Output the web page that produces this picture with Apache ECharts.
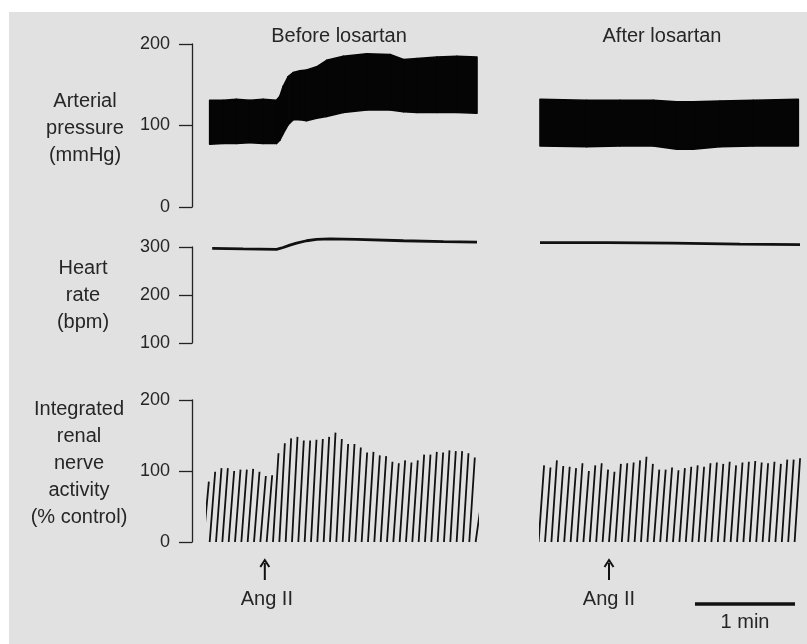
<!DOCTYPE html>
<html>
<head>
<meta charset="UTF-8">
<title>Ang II before / after losartan</title>
<script src="https://cdn.jsdelivr.net/npm/echarts@6/dist/echarts.min.js"></script>
<style>
  body { margin: 0; background: #fff; }
  #panel { position: absolute; left: 9px; top: 12px; width: 798px; height: 632px; background: #e1e1e1; }
  #main { position: absolute; left: 0; top: 0; width: 807px; height: 644px; }
</style>
</head>
<body>
<div id="panel"></div>
<div id="main"></div>
<script>
// ---- data (time in seconds from start of each recording) ----
// arterial pressure envelope, before losartan
var bpTimeBefore = [0, 8, 16, 24, 32, 40, 42, 44, 47, 50, 54, 58, 64, 70, 80, 94, 108, 116, 124, 136, 148, 160];
var sysBefore    = [131, 131, 132, 131, 132, 131, 136, 148, 160, 165, 167, 168, 172, 180, 185, 188, 187, 181, 182, 184, 185, 184];
var diaBefore    = [77, 78, 78, 79, 78, 78, 82, 90, 101, 107, 107, 106, 109, 111, 116, 119, 119, 117, 116, 116, 116, 115];
// arterial pressure envelope, after losartan
var bpTimeAfter = [0, 28, 48, 68, 82, 92, 108, 128, 155];
var sysAfter    = [132, 131, 131, 131, 129, 129, 130, 131, 132];
var diaAfter    = [75, 74, 75, 75, 71, 71, 74, 75, 75];

// heart rate
var hrTimeBefore = [1.5, 20, 40, 44, 48, 52, 58, 64, 72, 88, 116, 140, 160];
var hrBefore     = [297, 296, 295, 299, 304, 308, 313, 316, 317, 316, 313, 311, 310];
var hrTimeAfter  = [0, 40, 80, 120, 156];
var hrAfter      = [309, 309, 308, 306, 305];

// integrated renal nerve activity: peak of each integrator ramp
var nervePeaksBefore = [85, 99, 104, 104, 100, 102, 102, 103, 99, 93, 94,
  125, 139, 146, 148, 143, 143, 144, 145, 148, 154,
  145, 138, 138, 133, 126, 127, 122, 121, 113, 111, 115, 112, 115, 123, 123,
  127, 126, 129, 128, 128, 125, 119, 55];
var nervePeaksAfter = [108, 105, 115, 107, 106, 104, 111, 100, 108, 111, 102,
  99, 110, 111, 112, 115, 120, 110, 102, 102, 105,
  101, 104, 106, 108, 106, 111, 112, 110, 113, 108, 112, 113, 114, 112, 111,
  113, 110, 116, 116, 118];
var rampStartBefore = -3.79, rampPeriodBefore = 3.79;
var rampStartAfter = -0.84, rampPeriodAfter = 3.84;
var rampDuration = 3.3;

var angIIBefore = 33;   // injection time, s
var angIIAfter = 41.4;
var scaleBarStart = 93, scaleBarLength = 60;   // "1 min"

var pTicks = [0, 100, 200], hrTicks = [100, 200, 300], nTicks = [0, 100, 200];

// ---- helpers ----
function pairs(ts, vs) { return ts.map(function (t, i) { return [t, vs[i]]; }); }
function triples(ts, a, b) { return ts.map(function (t, i) { return [t, a[i], b[i]]; }); }
function ramps(t0, period, peaks) {
  var out = [];
  peaks.forEach(function (p, i) {
    var t = t0 + i * period;
    out.push([t, 0], [t + rampDuration, p], [t + rampDuration, '-']);
  });
  return out;
}

var font = "'Liberation Sans', Arial, sans-serif";
var ink = '#111';
var txt = '#262626';

var chart = echarts.init(document.getElementById('main'));

var rows = [
  { top: 44, height: 163, ticks: pTicks },
  { top: 247, height: 96, ticks: hrTicks },
  { top: 400, height: 142, ticks: nTicks }
];
var grids = [], xAxes = [], yAxes = [];
function addGrid(left, width, r, xmin, xmax, showY) {
  grids.push({ left: left, width: width, top: r.top, height: r.height, outerBoundsMode: 'none' });
  var gi = grids.length - 1;
  xAxes.push({ type: 'value', gridIndex: gi, min: xmin, max: xmax, show: false });
  yAxes.push({
    type: 'value', gridIndex: gi, show: showY,
    min: r.ticks[0], max: r.ticks[r.ticks.length - 1], interval: r.ticks[1] - r.ticks[0],
    axisLine: { show: true, lineStyle: { color: '#222', width: 1.3 } },
    axisTick: { show: true, length: 13, lineStyle: { color: '#222', width: 1.3 } },
    splitLine: { show: false },
    axisLabel: { fontSize: 18, color: txt, fontFamily: font, margin: 22 }
  });
}
// data grids: 0-2 before, 3-5 after; 6-8 carry the visible y axes
rows.forEach(function (r) { addGrid(207, 270, r, -1.6, 160, false); });
rows.forEach(function (r) { addGrid(540, 260, r, 0, 156, false); });
rows.forEach(function (r) { addGrid(192, 10, r, 0, 1, true); });

// pressure band: one quad between each pair of envelope samples
function bandItem(params, api) {
  var i = params.dataIndexInside;
  if (i + 1 >= params.dataInsideLength) return null;
  var a1 = api.coord([api.value(0, i), api.value(1, i)]);
  var a2 = api.coord([api.value(0, i + 1), api.value(1, i + 1)]);
  var b2 = api.coord([api.value(0, i + 1), api.value(2, i + 1)]);
  var b1 = api.coord([api.value(0, i), api.value(2, i)]);
  return {
    type: 'polygon',
    shape: { points: [a1, a2, b2, b1] },
    style: { fill: '#050505', stroke: '#050505', lineWidth: 1.6, lineJoin: 'round' }
  };
}
function band(idx, ts, sys, dia) {
  return {
    type: 'custom', xAxisIndex: idx, yAxisIndex: idx, renderItem: bandItem,
    encode: { x: 0, y: [1, 2] }, data: triples(ts, sys, dia)
  };
}

var series = [
  band(0, bpTimeBefore, sysBefore, diaBefore),
  band(3, bpTimeAfter, sysAfter, diaAfter),
  { type: 'line', xAxisIndex: 1, yAxisIndex: 1, symbol: 'none', clip: false,
    data: pairs(hrTimeBefore, hrBefore), lineStyle: { color: ink, width: 2.8 } },
  { type: 'line', xAxisIndex: 4, yAxisIndex: 4, symbol: 'none', clip: false,
    data: pairs(hrTimeAfter, hrAfter), lineStyle: { color: ink, width: 2.8 } },
  { type: 'line', xAxisIndex: 2, yAxisIndex: 2, symbol: 'none', clip: true, connectNulls: false,
    data: ramps(rampStartBefore, rampPeriodBefore, nervePeaksBefore), lineStyle: { color: ink, width: 1.8 } },
  { type: 'line', xAxisIndex: 5, yAxisIndex: 5, symbol: 'none', clip: true, connectNulls: false,
    data: ramps(rampStartAfter, rampPeriodAfter, nervePeaksAfter), lineStyle: { color: ink, width: 1.8 } }
];

chart.setOption({
  animation: false,
  grid: grids,
  xAxis: xAxes,
  yAxis: yAxes,
  series: series
});

// labels, arrows and scale bar placed from the time axes
function label(text, x, y) {
  return {
    type: 'text', x: x, y: y,
    style: { text: text, font: '20px ' + font, fill: txt, align: 'center', verticalAlign: 'middle', lineHeight: 27 }
  };
}
function arrow(x) {
  return [
    { type: 'line', shape: { x1: x, y1: 580, x2: x, y2: 563 }, style: { stroke: ink, lineWidth: 2 } },
    { type: 'polyline', shape: { points: [[x - 4.5, 567], [x, 560], [x + 4.5, 567]] }, style: { stroke: ink, lineWidth: 2, fill: null } }
  ];
}
var xa1 = chart.convertToPixel({ xAxisIndex: 2 }, angIIBefore);
var xa2 = chart.convertToPixel({ xAxisIndex: 5 }, angIIAfter);
var sb1 = chart.convertToPixel({ xAxisIndex: 5 }, scaleBarStart);
var sb2 = chart.convertToPixel({ xAxisIndex: 5 }, scaleBarStart + scaleBarLength);

var g = [
  label('Before losartan', 339, 36),
  label('After losartan', 662, 36),
  label('Arterial\npressure\n(mmHg)', 85, 128),
  label('Heart\nrate\n(bpm)', 83, 295),
  label('Integrated\nrenal\nnerve\nactivity\n(% control)', 79, 463),
  label('Ang II', xa1 + 2, 599),
  label('Ang II', xa2, 599),
  { type: 'line', shape: { x1: sb1, y1: 604, x2: sb2, y2: 604 }, style: { stroke: ink, lineWidth: 3.5 } },
  label('1 min', (sb1 + sb2) / 2, 622)
].concat(arrow(xa1)).concat(arrow(xa2));

chart.setOption({ graphic: g });
</script>
</body>
</html>
